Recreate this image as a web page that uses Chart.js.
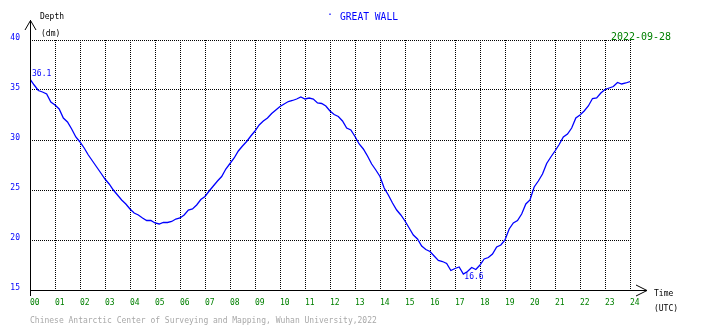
<!DOCTYPE html>
<html lang="en">
<head>
    <meta charset="UTF-8">
    <title>Great Wall tide gauge</title>
    <script src="https://cdn.jsdelivr.net/npm/chart.js"></script>
    <style>
        body { margin: 0; background: #fff; }
    </style>
</head>
<body>
    <canvas id="tideChart" width="710" height="328"></canvas>

    <script>
        var stationName = 'GREAT WALL';
        var obsDate = '2022-09-28';
        var footer = 'Chinese Antarctic Center of Surveying and Mapping, Wuhan University,2022';
        var hourLabels = ['00', '01', '02', '03', '04', '05', '06', '07', '08', '09', '10', '11', '12',
            '13', '14', '15', '16', '17', '18', '19', '20', '21', '22', '23', '24'];
        var depthTicks = [15, 20, 25, 30, 35, 40];
        var stepMinutes = 10;
        // depth (dm), one reading every 10 minutes from 00:00 to 24:00 UTC
        var depth = [
            36.1, 35.5, 34.95, 34.8, 34.6, 33.8, 33.5, 33.1, 32.2, 31.8, 31.1, 30.3,
            29.8, 29.2, 28.5, 27.9, 27.3, 26.7, 26.1, 25.6, 25.0, 24.5, 24.0, 23.6,
            23.1, 22.7, 22.5, 22.2, 21.95, 21.95, 21.7, 21.6, 21.75, 21.75, 21.85, 22.1,
            22.2, 22.5, 23.0, 23.1, 23.5, 24.05, 24.35, 24.9, 25.4, 25.9, 26.35, 27.1,
            27.65, 28.2, 28.9, 29.4, 29.85, 30.4, 30.9, 31.5, 31.9, 32.2, 32.65, 33.0,
            33.35, 33.6, 33.85, 33.95, 34.1, 34.3, 34.1, 34.2, 34.1, 33.7, 33.65, 33.4,
            32.9, 32.55, 32.35, 31.9, 31.2, 31.0, 30.35, 29.6, 29.1, 28.4, 27.6, 27.0,
            26.35, 25.2, 24.5, 23.7, 23.0, 22.5, 21.9, 21.2, 20.5, 20.1, 19.4, 19.05,
            18.85, 18.4, 17.95, 17.85, 17.65, 16.95, 17.15, 17.3, 16.6, 16.85, 17.25, 17.05,
            17.5, 18.1, 18.25, 18.6, 19.3, 19.5, 20.0, 21.1, 21.7, 21.95, 22.6, 23.6,
            24.0, 25.3, 25.9, 26.6, 27.65, 28.3, 28.9, 29.55, 30.3, 30.6, 31.2, 32.2,
            32.5, 32.9, 33.4, 34.15, 34.2, 34.7, 35.05, 35.2, 35.35, 35.75, 35.6, 35.7,
            35.85
        ];

        var tinyFont = 'DejaVu Sans Mono';

        var points = depth.map(function (d, i) {
            return { x: i * stepMinutes / 60, y: d };
        });

        function txt(ctx, s, x, y, font, color, align, maxW) {
            ctx.font = font;
            ctx.fillStyle = color;
            ctx.textAlign = align || 'left';
            ctx.textBaseline = 'middle';
            if (maxW) ctx.fillText(s, x, y, maxW);
            else ctx.fillText(s, x, y);
        }

        var decorPlugin = {
            id: 'decor',
            afterDraw: function (chart) {
                var ctx = chart.ctx;
                var a = chart.chartArea;
                var xs = chart.scales.x, ys = chart.scales.y;
                ctx.save();
                ctx.strokeStyle = '#000';
                ctx.lineWidth = 1;
                // y axis with arrow
                ctx.beginPath();
                ctx.moveTo(a.left + 0.5, 20);
                ctx.lineTo(a.left + 0.5, a.bottom + 6);
                ctx.moveTo(a.left - 5, 30);
                ctx.lineTo(a.left + 0.5, 20.5);
                ctx.lineTo(a.left + 6, 30);
                // x axis with arrow
                ctx.moveTo(a.left, a.bottom + 0.5);
                ctx.lineTo(a.right + 17, a.bottom + 0.5);
                ctx.moveTo(a.right + 6, a.bottom - 5);
                ctx.lineTo(a.right + 17, a.bottom + 0.5);
                ctx.lineTo(a.right + 6, a.bottom + 6);
                ctx.stroke();

                txt(ctx, 'Depth', 40, 16.5, '9px ' + tinyFont, '#000', 'left', 24);
                txt(ctx, '(dm)', 41, 34, '8px ' + tinyFont, '#000');
                txt(ctx, 'Time', a.right + 24, a.bottom + 4, '8px ' + tinyFont, '#000', 'left', 20);
                txt(ctx, '(UTC)', a.right + 24, a.bottom + 19, '8px ' + tinyFont, '#000', 'left', 24);
                txt(ctx, '\u00b7', 330, 15, '10px ' + tinyFont, '#0000ff', 'center');
                txt(ctx, stationName, 340, 17, '11px ' + tinyFont, '#0000ff', 'left', 58);
                txt(ctx, obsDate, 671, 37, '11px ' + tinyFont, '#008000', 'right', 60);
                txt(ctx, footer, 30, 320.5, '8px ' + tinyFont, '#a8a8a8', 'left', 360);

                // max / min annotations
                var iMax = 0, iMin = 0;
                depth.forEach(function (d, i) {
                    if (d > depth[iMax]) iMax = i;
                    if (d < depth[iMin]) iMin = i;
                });
                var px = xs.getPixelForValue(points[iMax].x), py = ys.getPixelForValue(depth[iMax]);
                txt(ctx, depth[iMax].toFixed(1), px + 2, py - 5, '8px ' + tinyFont, '#0000ff');
                px = xs.getPixelForValue(points[iMin].x);
                py = ys.getPixelForValue(depth[iMin]);
                txt(ctx, depth[iMin].toFixed(1), px + 1, py + 3, '8px ' + tinyFont, '#0000ff');
                ctx.restore();
            }
        };

        var ctx = document.getElementById('tideChart').getContext('2d');
        var tideChart = new Chart(ctx, {
            type: 'line',
            data: {
                datasets: [{
                    label: stationName,
                    data: points,
                    borderColor: '#0000ff',
                    borderWidth: 1.3,
                    pointRadius: 0,
                    tension: 0,
                    fill: false
                }]
            },
            options: {
                responsive: false,
                animation: false,
                layout: { padding: { top: 40, right: 80, left: 0, bottom: 0 } },
                plugins: {
                    legend: { display: false },
                    tooltip: { enabled: false }
                },
                scales: {
                    x: {
                        type: 'linear',
                        min: 0,
                        max: 24,
                        afterFit: function (s) { s.height = 38; },
                        ticks: {
                            stepSize: 1,
                            autoSkip: false,
                            maxRotation: 0,
                            align: 'start',
                            padding: 8,
                            color: '#008000',
                            font: { family: tinyFont, size: 8 },
                            callback: function (v) { return hourLabels[v]; }
                        },
                        grid: { color: '#000', drawTicks: false },
                        border: { display: false, dash: [1, 1] }
                    },
                    y: {
                        min: depthTicks[0],
                        max: depthTicks[depthTicks.length - 1],
                        afterFit: function (s) { s.width = 30; },
                        afterBuildTicks: function (s) {
                            s.ticks = depthTicks.map(function (v) { return { value: v }; });
                        },
                        ticks: {
                            padding: 10,
                            labelOffset: -2,
                            color: '#0000ff',
                            font: { family: tinyFont, size: 8 }
                        },
                        grid: { color: '#000', drawTicks: false },
                        border: { display: false, dash: [1, 1] }
                    }
                }
            },
            plugins: [decorPlugin]
        });
    </script>
</body>
</html>
